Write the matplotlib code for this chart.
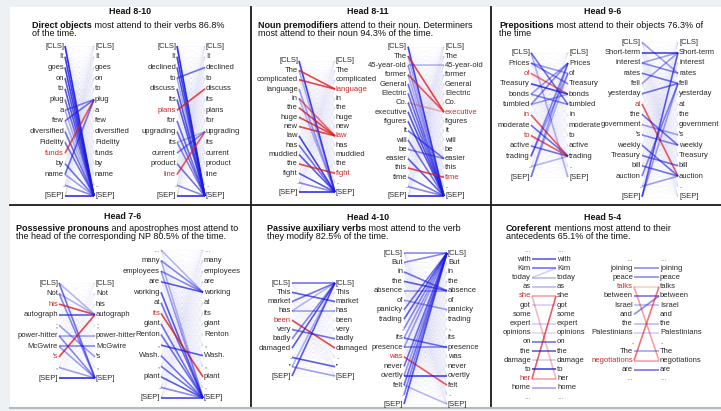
import numpy as np
import matplotlib
matplotlib.use("Agg")
import matplotlib.pyplot as plt
from matplotlib.collections import LineCollection
from matplotlib.patches import Rectangle

plt.rcParams['font.family'] = ['Liberation Sans', 'DejaVu Sans']

# -----------------------------
# Data: tokens, highlighted tokens and attention edges (src, dst, weight)
# -----------------------------
titles = ["Head 8-10", "Head 8-11", "Head 9-6", "Head 7-6", "Head 4-10", "Head 5-4"]
caption_bold = ["Direct objects", "Noun premodifiers", "Prepositions",
                "Possessive pronouns", "Passive auxiliary verbs", "Coreferent"]
caption_rest = [" most attend to their verbs 86.8%", " attend to their noun. Determiners",
                " most attend to their objects 76.3% of", " and apostrophes most attend to",
                " most attend to the verb", " mentions most attend to their"]
caption_line2 = ["of the time.", "most attend to their noun 94.3% of the time.", "the time",
                 "the head of the corresponding NP 80.5% of the time.",
                 "they modify 82.5% of the time.", "antecedents 65.1% of the time."]

tok_8_10a = ["[CLS]", "It", "goes", "on", "to", "plug", "a", "few", "diversified",
             "Fidelity", "funds", "by", "name", ".", "[SEP]"]
tok_8_10b = ["[CLS]", "It", "declined", "to", "discuss", "its", "plans", "for",
             "upgrading", "its", "current", "product", "line", ".", "[SEP]"]
tok_8_11a = ["[CLS]", "The", "complicated", "language", "in", "the", "huge", "new",
             "law", "has", "muddied", "the", "fight", ".", "[SEP]"]
tok_8_11b = ["[CLS]", "The", "45-year-old", "former", "General", "Electric", "Co.",
             "executive", "figures", "it", "will", "be", "easier", "this", "time", ".", "[SEP]"]
tok_9_6a = ["[CLS]", "Prices", "of", "Treasury", "bonds", "tumbled", "in", "moderate",
            "to", "active", "trading", ".", "[SEP]"]
tok_9_6b = ["[CLS]", "Short-term", "interest", "rates", "fell", "yesterday", "at", "the",
            "government", "'s", "weekly", "Treasury", "bill", "auction", ".", "[SEP]"]
tok_7_6a = ["[CLS]", "Not", "his", "autograph", ";", "power-hitter", "McGwire", "'s",
            ",", "[SEP]"]
tok_7_6b = ["...", "many", "employees", "are", "working", "at", "its", "giant", "Renton",
            ",", "Wash.", ",", "plant", ".", "[SEP]"]
tok_4_10a = ["[CLS]", "This", "market", "has", "been", "very", "badly", "damaged", ".",
             "''", "[SEP]"]
tok_4_10b = ["[CLS]", "But", "in", "the", "absence", "of", "panicky", "trading", ",",
             "its", "presence", "was", "never", "overtly", "felt", ".", "[SEP]"]
tok_5_4a = ["...", "with", "Kim", "today", "as", "she", "got", "some", "expert",
            "opinions", "on", "the", "damage", "to", "her", "home", "..."]
tok_5_4b = ["...", "joining", "peace", "talks", "between", "Israel", "and", "the",
            "Palestinians", ".", "The", "negotiations", "are", "..."]

# red words in the left (attending) column / right (attended) column
redL_8_10a, redR_8_10a = [10], []
redL_8_10b, redR_8_10b = [6, 12], []
redL_8_11a, redR_8_11a = [], [3, 8, 12]
redL_8_11b, redR_8_11b = [], [7, 14]
redL_9_6a, redR_9_6a = [2, 6, 8], []
redL_9_6b, redR_9_6b = [6], []
redL_7_6a, redR_7_6a = [2, 7], []
redL_7_6b, redR_7_6b = [6], []
redL_4_10a, redR_4_10a = [4], []
redL_4_10b, redR_4_10b = [11], []
redL_5_4a, redR_5_4a = [5, 14], []
redL_5_4b, redR_5_4b = [3, 11], []

att_8_10a = [(0, 14, .9), (1, 14, .8), (2, 14, .8), (3, 14, .7), (4, 14, .7), (5, 14, .6),
             (6, 5, .5), (7, 5, .6), (8, 14, .6), (9, 14, .6), (10, 5, .7), (11, 14, .6),
             (12, 5, .6), (13, 14, .5), (14, 14, .9), (6, 14, .3), (7, 14, .3), (12, 14, .4)]
att_8_10b = [(0, 14, .9), (1, 14, .8), (2, 14, .7), (3, 2, .6), (3, 14, .3), (4, 14, .7),
             (5, 14, .7), (6, 4, .8), (7, 14, .6), (8, 14, .6), (9, 14, .5), (10, 8, .5),
             (11, 14, .6), (12, 8, .7), (13, 14, .5), (14, 14, .9), (9, 8, .3)]
att_8_11a = [(0, 14, .8), (1, 3, .8), (2, 3, .8), (3, 14, .4), (4, 8, .6), (5, 8, .8),
             (6, 8, .8), (7, 8, .8), (8, 14, .8), (9, 14, .6), (10, 14, .7), (11, 12, .8),
             (12, 14, .7), (13, 14, .5), (14, 14, .9), (4, 14, .3), (1, 14, .3)]
att_8_11b = [(0, 16, .8), (1, 7, .8), (2, 2, .3), (3, 7, .7), (4, 16, .6), (5, 16, .6),
             (6, 16, .6), (7, 16, .7), (8, 16, .7), (9, 12, .6), (10, 16, .6), (11, 12, .5),
             (12, 16, .7), (13, 14, .8), (14, 16, .6), (15, 16, .5), (16, 16, .9),
             (2, 16, .4), (3, 16, .3), (1, 16, .3), (6, 7, .3)]
att_9_6a = [(0, 5, .6), (0, 12, .3), (1, 2, .4), (1, 3, .5), (2, 4, .6), (3, 4, .8),
            (4, 5, .5), (4, 1, .4), (5, 1, .5), (5, 4, .4), (6, 10, .7), (7, 10, .6),
            (8, 10, .7), (9, 10, .6), (10, 1, .5), (10, 2, .4), (11, 10, .3), (12, 1, .4),
            (12, 2, .3)]
att_9_6b = [(0, 3, .4), (1, 1, .8), (2, 3, .5), (3, 4, .6), (4, 1, .4), (5, 4, .6),
            (6, 13, .7), (7, 10, .6), (8, 9, .4), (9, 10, .5), (10, 13, .6), (11, 12, .6),
            (12, 13, .6), (13, 4, .5), (14, 13, .4), (15, 1, .7), (15, 4, .4), (2, 1, .4)]
att_7_6a = [(0, 9, .6), (1, 9, .5), (2, 3, .8), (3, 3, .7), (4, 7, .4), (5, 5, .4),
            (6, 6, .5), (7, 3, .8), (8, 9, .4), (9, 9, .9), (5, 9, .5), (6, 9, .4),
            (1, 3, .3), (0, 3, .3)]
att_7_6b = [(0, 4, .3), (1, 4, .5), (2, 4, .5), (3, 4, .7), (4, 14, .7), (5, 14, .6),
            (6, 12, .8), (7, 14, .6), (8, 14, .6), (9, 10, .7), (10, 14, .6), (11, 14, .6),
            (12, 14, .7), (13, 14, .5), (14, 14, .8), (1, 14, .3), (2, 14, .4)]
att_4_10a = [(0, 0, .6), (1, 2, .7), (2, 0, .6), (3, 3, .4), (4, 7, .8), (5, 6, .6),
             (6, 0, .5), (7, 0, .7), (8, 9, .7), (9, 10, .4), (10, 0, .7), (3, 0, .3),
             (9, 0, .3)]
att_4_10b = [(0, 0, .5), (1, 0, .5), (2, 4, .6), (3, 4, .7), (4, 4, .4), (5, 6, .4),
             (6, 0, .6), (7, 0, .7), (8, 0, .5), (9, 10, .6), (10, 10, .5), (11, 14, .7),
             (12, 0, .6), (13, 13, .8), (14, 0, .6), (15, 0, .5), (16, 0, .7), (9, 0, .4),
             (10, 0, .4), (14, 16, .3), (13, 0, .4)]
att_5_4a = [(1, 1, .7), (2, 2, .6), (3, 3, .3), (4, 4, .3), (5, 5, .4), (5, 14, .3),
            (14, 5, .7), (14, 14, .4), (10, 10, .6), (11, 11, .7), (13, 13, .8), (15, 15, .4),
            (3, 2, .2), (6, 6, .2), (8, 8, .2), (9, 9, .15), (12, 12, .2)]
att_5_4b = [(1, 1, .5), (2, 2, .5), (3, 11, .4), (4, 4, .6), (5, 5, .3), (6, 4, .5),
            (7, 7, .3), (10, 10, .4), (11, 3, .6), (11, 11, .4), (12, 12, .6), (8, 8, .2),
            (3, 3, .2)]

subplots = [
    (tok_8_10a, redL_8_10a, redR_8_10a, att_8_10a), (tok_8_10b, redL_8_10b, redR_8_10b, att_8_10b),
    (tok_8_11a, redL_8_11a, redR_8_11a, att_8_11a), (tok_8_11b, redL_8_11b, redR_8_11b, att_8_11b),
    (tok_9_6a, redL_9_6a, redR_9_6a, att_9_6a), (tok_9_6b, redL_9_6b, redR_9_6b, att_9_6b),
    (tok_7_6a, redL_7_6a, redR_7_6a, att_7_6a), (tok_7_6b, redL_7_6b, redR_7_6b, att_7_6b),
    (tok_4_10a, redL_4_10a, redR_4_10a, att_4_10a), (tok_4_10b, redL_4_10b, redR_4_10b, att_4_10b),
    (tok_5_4a, redL_5_4a, redR_5_4a, att_5_4a), (tok_5_4b, redL_5_4b, redR_5_4b, att_5_4b),
]

# -----------------------------
# Layout (pixels): left column x, right column x, first row y, row step
# -----------------------------
sub_layout = [
    (65, 94, 46, 10.71), (177, 205, 46, 10.71),
    (299, 335, 61, 9.36), (408, 444, 46.7, 9.33),
    (531, 568, 52.7, 10.36), (642, 678, 42.3, 10.29),
    (59, 95, 283, 10.56), (161, 203, 250, 10.57),
    (292, 335, 283, 9.3), (404, 447, 253, 9.44),
    (532, 556, 250, 9.19), (634, 659, 259, 9.23),
]
title_pos = [(130, 11), (368, 11), (603, 11), (123, 216), (368, 217), (603, 217)]
caption_pos = [(32, 25), (258, 25), (499, 25), (16, 228), (267, 228), (506, 228)]

BLUE = (0.1, 0.1, 0.88)
RED = (0.9, 0.1, 0.1)
WORD = "#2a2a2a"
WORD_RED = "#d02828"

fig = plt.figure(figsize=(7.21, 4.11), dpi=100, facecolor="#eef1f4")
ax = fig.add_axes([0, 0, 1, 1])
ax.set_xlim(0, 721)
ax.set_ylim(411, 0)
ax.axis("off")

# page
ax.add_patch(Rectangle((10, 7), 711, 400, facecolor="white", edgecolor="none"))
ax.plot([10, 721], [407.5, 407.5], color="#b8b8b8", lw=1.5)
ax.plot([251, 251], [7, 406], color="#1a1a1a", lw=1.3)
ax.plot([491, 491], [7, 406], color="#1a1a1a", lw=1.3)
ax.plot([10, 721], [205, 205], color="#1a1a1a", lw=1.3)

renderer = fig.canvas.get_renderer()

for k in range(6):
    tx, ty = title_pos[k]
    ax.text(tx, ty, titles[k], ha="center", va="center", fontsize=6.4,
            fontweight="bold", color="#111")
    cx, cy = caption_pos[k]
    tb = ax.text(cx, cy, caption_bold[k], ha="left", va="center", fontsize=6.5,
                 fontweight="bold", color="#111")
    bb = tb.get_window_extent(renderer)
    ax.text(cx + bb.width, cy, caption_rest[k], ha="left", va="center",
            fontsize=6.5, color="#111")
    ax.text(cx, cy + 8.5, caption_line2[k], ha="left", va="center",
            fontsize=6.5, color="#111")

for idx, (tokens, redL, redR, att) in enumerate(subplots):
    xl, xr, y0, dy = sub_layout[idx]
    n = len(tokens)
    ys = y0 + dy * np.arange(n)

    # faint background attention to every token
    if idx < 10:
        segs = [[(xl, ys[i]), (xr, ys[j])] for i in range(n) for j in range(n)]
        ax.add_collection(LineCollection(segs, colors=[BLUE + (0.024,)], linewidths=0.6))

    segs, cols = [], []
    for i, j, w in att:
        segs.append([(xl, ys[i]), (xr, ys[j])])
        base = RED if (i in redL or j in redR) else BLUE
        cols.append(base + (w,))
    ax.add_collection(LineCollection(segs, colors=cols, linewidths=1.2))

    for i, t in enumerate(tokens):
        lc = WORD_RED if i in redL else WORD
        rc = WORD_RED if i in redR else WORD
        if t == "...":
            lc = rc = "#888"
        ax.text(xl - 1, ys[i], t, ha="right", va="center", fontsize=5.5, color=lc)
        ax.text(xr + 1, ys[i], t, ha="left", va="center", fontsize=5.5, color=rc)

fig.savefig("out.png", dpi=100, facecolor=fig.get_facecolor())
